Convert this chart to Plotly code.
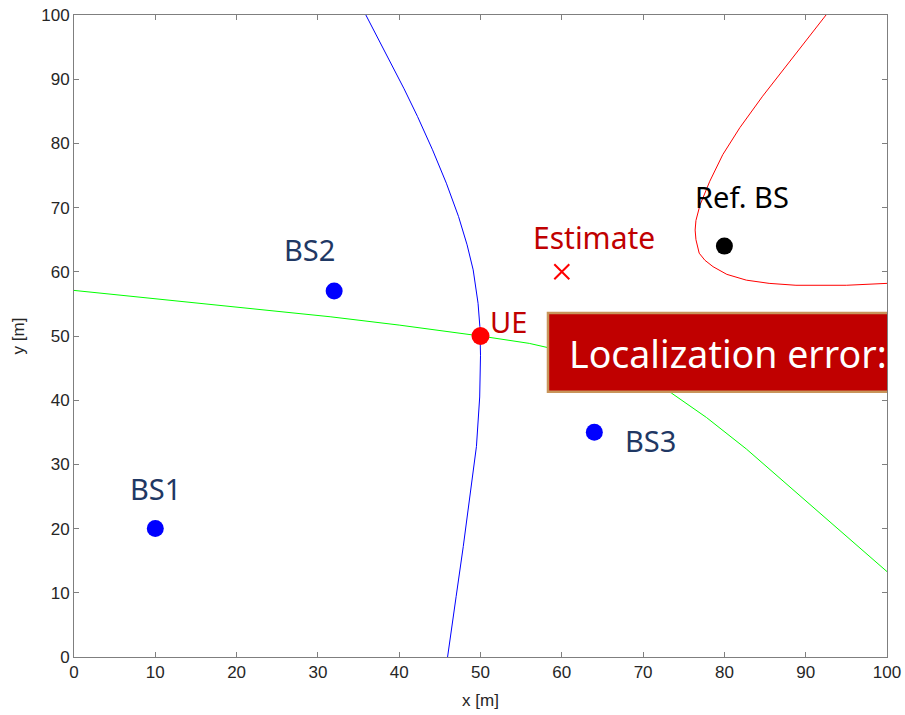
import plotly.graph_objects as go

# ---- data ----
blue_x = [35.9, 37.4, 38.9, 40.6, 42.25, 44.1, 45.8, 47.3, 48.35, 49.1, 49.7, 49.92, 50.0, 49.9, 49.5, 48.7, 47.88, 47.0, 45.95]
blue_y = [100, 96.4, 92.7, 88.5, 84.2, 79.0, 73.8, 68.6, 64.2, 60.3, 55.1, 51.5, 47.0, 40.5, 32.8, 25.0, 17.2, 9.4, 0]

green_x = [0, 10, 20, 31.5, 40, 50, 56, 60, 65, 70, 73.5, 77.8, 82.7, 87.6, 92.5, 97.4, 100]
green_y = [57.1, 55.8, 54.5, 53.0, 51.7, 50.0, 48.85, 47.7, 45.8, 43.4, 41.1, 37.3, 32.4, 27.0, 21.6, 16.15, 13.3]

red_x = [92.5, 88.0, 84.7, 81.9, 79.8, 78.2, 77.0, 76.5, 76.4, 76.5, 76.9, 77.6, 78.6, 80.3, 82.7, 85.5, 88.8, 95.0, 100]
red_y = [100, 92.8, 87.35, 82.45, 78.25, 74.1, 70.4, 68.0, 66.5, 65.0, 62.9, 61.8, 60.8, 59.6, 58.7, 58.2, 57.9, 57.9, 58.2]

bs_names = ["BS1", "BS2", "BS3"]
bs_x = [10, 32, 64]
bs_y = [20, 57, 35]
bs_label_x = [10, 29.0, 70.9]
bs_label_y = [26.3, 63.4, 33.8]

ref_x, ref_y = [80], [64]
ue_x, ue_y = [50], [50]
est_x, est_y = [60], [60]

ticks = [0, 10, 20, 30, 40, 50, 60, 70, 80, 90, 100]

fig = go.Figure()
fig.add_trace(go.Scatter(x=blue_x, y=blue_y, mode="lines", line=dict(color="#0000FF", width=1), hoverinfo="skip"))
fig.add_trace(go.Scatter(x=green_x, y=green_y, mode="lines", line=dict(color="#00FF00", width=1), hoverinfo="skip"))
fig.add_trace(go.Scatter(x=red_x, y=red_y, mode="lines", line=dict(color="#FF0000", width=1), hoverinfo="skip"))
fig.add_trace(go.Scatter(x=bs_x, y=bs_y, mode="markers", marker=dict(color="#0000FF", size=17)))
fig.add_trace(go.Scatter(x=ref_x, y=ref_y, mode="markers", marker=dict(color="#000000", size=17)))
fig.add_trace(go.Scatter(x=ue_x, y=ue_y, mode="markers", marker=dict(color="#FF0000", size=18)))
fig.add_trace(go.Scatter(x=est_x, y=est_y, mode="markers",
                         marker=dict(symbol="x-thin", color="#FF0000", size=15, line=dict(width=2, color="#FF0000"))))

lab_font = "Noto Sans, Open Sans, sans-serif"
for n, lx, ly in zip(bs_names, bs_label_x, bs_label_y):
    fig.add_annotation(x=lx, y=ly, text=n, showarrow=False, font=dict(family=lab_font, size=29, color="#1F3864"))
fig.add_annotation(x=82.2, y=71.7, text="Ref. BS", showarrow=False, font=dict(family=lab_font, size=29, color="#000000"))
fig.add_annotation(x=53.4, y=52.2, text="UE", showarrow=False, font=dict(family=lab_font, size=29, color="#C00000"))
fig.add_annotation(x=63.9, y=65.4, text="Estimate", showarrow=False, font=dict(family=lab_font, size=30, color="#C00000"))

# overlay box (cut off at the right edge)
fig.add_shape(type="rect", xref="x", yref="y", x0=58.3, x1=105, y0=41.3, y1=53.6,
              fillcolor="#C00000", line=dict(color="#C8955A", width=2.5), layer="above")
fig.add_annotation(x=60.6, y=47.3, xanchor="left", text="Localization error:", showarrow=False,
                   font=dict(family=lab_font, size=37.5, color="#FFFFFF"))

tick_font = dict(family="Liberation Sans, Arial, sans-serif", size=17, color="#262626")
axis_common = dict(range=[0, 100], tickvals=ticks, ticks="inside", ticklen=5, tickcolor="#7F7F7F",
                   showline=True, linecolor="#7F7F7F", linewidth=1, mirror="ticks",
                   showgrid=False, zeroline=False, automargin=False, tickfont=tick_font)
fig.update_xaxes(**axis_common, title=dict(text="x [m]", font=dict(family="Liberation Sans, Arial", size=17, color="#262626"), standoff=12))
fig.update_yaxes(**axis_common, title=dict(text="y [m]", font=dict(family="Liberation Sans, Arial", size=17, color="#262626"), standoff=12))

fig.update_layout(width=905, height=715, margin=dict(l=74, r=18, t=15, b=58),
                  paper_bgcolor="white", plot_bgcolor="white", showlegend=False)

fig.write_html("out.html")
